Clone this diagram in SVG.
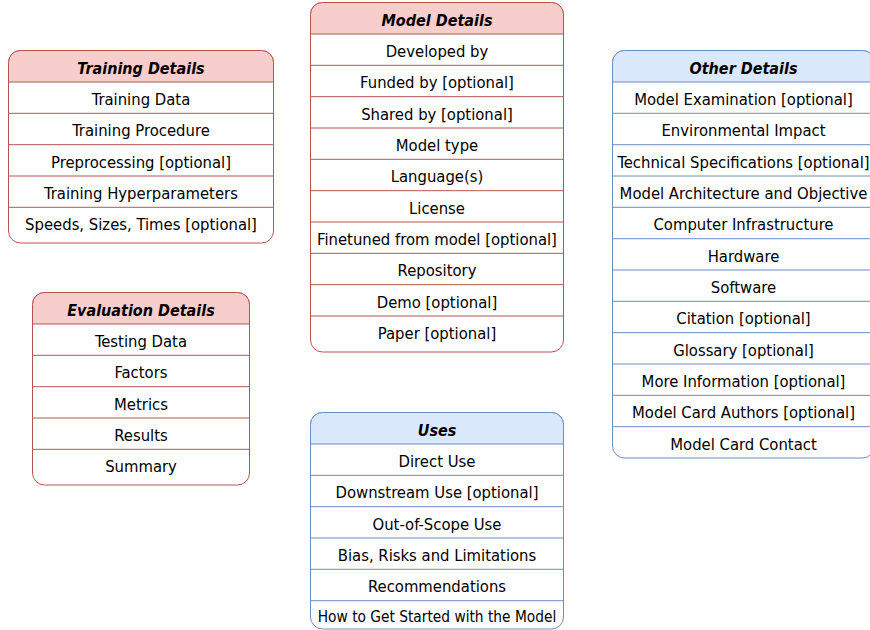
<svg xmlns="http://www.w3.org/2000/svg" width="870" height="630" viewBox="0 0 870 630">
<style>
.box{fill:#ffffff;stroke-width:1}
.red .box,.red .hd,.red .ln{stroke:#b85450}
.blue .box,.blue .hd,.blue .ln{stroke:#6c8ebf}
.red .hd{fill:#f8cecc}
.blue .hd{fill:#dae8fc}
.ln{stroke-width:1;fill:none}
.ttl{font-family:"DejaVu Sans Condensed","DejaVu Sans",sans-serif;font-size:16px;font-weight:bold;font-style:italic;text-anchor:middle;fill:#000}
.row{font-family:"DejaVu Sans Condensed","DejaVu Sans",sans-serif;font-size:16.5px;text-anchor:middle;fill:#000}
.sm{font-size:15.3px}
</style>
<rect width="870" height="630" fill="#ffffff"/>
<g id="connectors"/>

<g id="training-details" class="red">
<rect class="box" x="8.5" y="50.5" width="265" height="192.5" rx="12"/>
<path class="hd" d="M8.5,82 V62.5 A12,12 0 0 1 20.5,50.5 H261.5 A12,12 0 0 1 273.5,62.5 V82 Z"/>
<path class="ln" d="M8.5,113.3H273.5M8.5,144.7H273.5M8.5,176H273.5M8.5,207.3H273.5"/>
<text class="ttl" x="141" y="74.3">Training Details</text>
<text class="row" x="141" y="105">Training Data</text>
<text class="row" x="141" y="136.3">Training Procedure</text>
<text class="row" x="141" y="167.7">Preprocessing [optional]</text>
<text class="row" x="141" y="199">Training Hyperparameters</text>
<text class="row" x="141" y="230.3">Speeds, Sizes, Times [optional]</text>
</g>

<g id="model-details" class="red">
<rect class="box" x="310.5" y="2.5" width="253" height="349.5" rx="12"/>
<path class="hd" d="M310.5,34 V14.5 A12,12 0 0 1 322.5,2.5 H551.5 A12,12 0 0 1 563.5,14.5 V34 Z"/>
<path class="ln" d="M310.5,65.3H563.5M310.5,96.7H563.5M310.5,128H563.5M310.5,159.3H563.5M310.5,190.7H563.5M310.5,222H563.5M310.5,253.3H563.5M310.5,284.7H563.5M310.5,316H563.5"/>
<text class="ttl" x="437" y="26.3">Model Details</text>
<text class="row" x="437" y="57">Developed by</text>
<text class="row" x="437" y="88.3">Funded by [optional]</text>
<text class="row" x="437" y="119.7">Shared by [optional]</text>
<text class="row" x="437" y="151">Model type</text>
<text class="row" x="437" y="182.3">Language(s)</text>
<text class="row" x="437" y="213.7">License</text>
<text class="row" x="437" y="245">Finetuned from model [optional]</text>
<text class="row" x="437" y="276.3">Repository</text>
<text class="row" x="437" y="307.7">Demo [optional]</text>
<text class="row" x="437" y="339">Paper [optional]</text>
</g>

<g id="other-details" class="blue">
<rect class="box" x="612.5" y="50.5" width="262" height="407.5" rx="12"/>
<path class="hd" d="M612.5,82 V62.5 A12,12 0 0 1 624.5,50.5 H862.5 A12,12 0 0 1 874.5,62.5 V82 Z"/>
<path class="ln" d="M612.5,113.3H874.5M612.5,144.7H874.5M612.5,176H874.5M612.5,207.3H874.5M612.5,238.7H874.5M612.5,270H874.5M612.5,301.3H874.5M612.5,332.7H874.5M612.5,364H874.5M612.5,395.3H874.5M612.5,426.7H874.5"/>
<text class="ttl" x="743.5" y="74.3">Other Details</text>
<text class="row" x="743.5" y="105">Model Examination [optional]</text>
<text class="row" x="743.5" y="136.3">Environmental Impact</text>
<text class="row" x="743.5" y="167.7">Technical Specifications [optional]</text>
<text class="row" x="743.5" y="199">Model Architecture and Objective</text>
<text class="row" x="743.5" y="230.3">Computer Infrastructure</text>
<text class="row" x="743.5" y="261.7">Hardware</text>
<text class="row" x="743.5" y="293">Software</text>
<text class="row" x="743.5" y="324.3">Citation [optional]</text>
<text class="row" x="743.5" y="355.7">Glossary [optional]</text>
<text class="row" x="743.5" y="387">More Information [optional]</text>
<text class="row" x="743.5" y="418.3">Model Card Authors [optional]</text>
<text class="row" x="743.5" y="449.7">Model Card Contact</text>
</g>

<g id="evaluation-details" class="red">
<rect class="box" x="32.5" y="292.5" width="217" height="192.5" rx="12"/>
<path class="hd" d="M32.5,324 V304.5 A12,12 0 0 1 44.5,292.5 H237.5 A12,12 0 0 1 249.5,304.5 V324 Z"/>
<path class="ln" d="M32.5,355.3H249.5M32.5,386.7H249.5M32.5,418H249.5M32.5,449.3H249.5"/>
<text class="ttl" x="141" y="316.3">Evaluation Details</text>
<text class="row" x="141" y="347">Testing Data</text>
<text class="row" x="141" y="378.3">Factors</text>
<text class="row" x="141" y="409.7">Metrics</text>
<text class="row" x="141" y="441">Results</text>
<text class="row" x="141" y="472.3">Summary</text>
</g>

<g id="uses" class="blue">
<rect class="box" x="310.5" y="412.5" width="253" height="216.5" rx="12"/>
<path class="hd" d="M310.5,444 V424.5 A12,12 0 0 1 322.5,412.5 H551.5 A12,12 0 0 1 563.5,424.5 V444 Z"/>
<path class="ln" d="M310.5,475.3H563.5M310.5,506.7H563.5M310.5,538H563.5M310.5,569.3H563.5M310.5,600.7H563.5"/>
<text class="ttl" x="437" y="436.3">Uses</text>
<text class="row" x="437" y="467">Direct Use</text>
<text class="row" x="437" y="498.3">Downstream Use [optional]</text>
<text class="row" x="437" y="529.7">Out-of-Scope Use</text>
<text class="row" x="437" y="561">Bias, Risks and Limitations</text>
<text class="row" x="437" y="592.3">Recommendations</text>
<text class="row sm" x="437" y="622">How to Get Started with the Model</text>
</g>
</svg>
